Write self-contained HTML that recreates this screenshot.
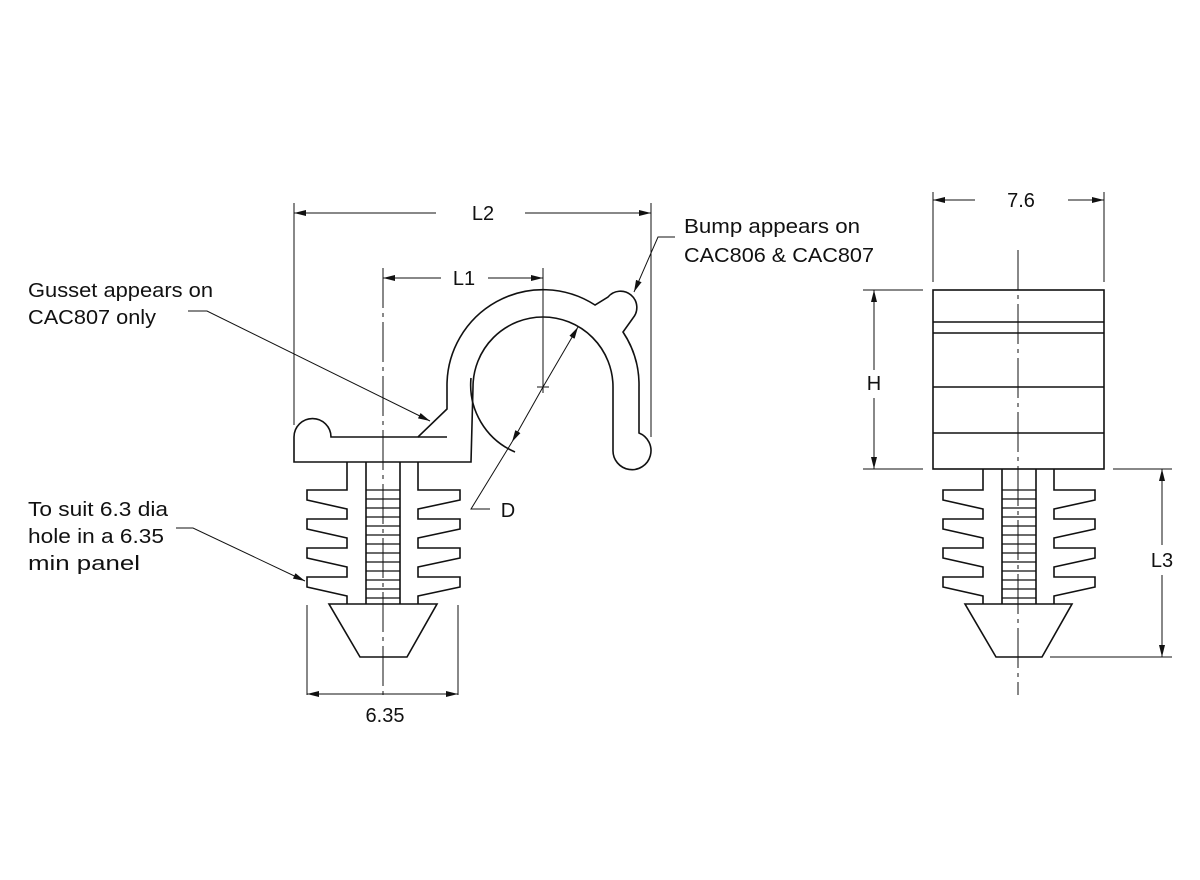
<!DOCTYPE html>
<html><head><meta charset="utf-8"><style>html,body{margin:0;padding:0;background:#fff}svg{display:block}</style></head>
<body>
<svg width="1200" height="880" viewBox="0 0 1200 880" xmlns="http://www.w3.org/2000/svg">
<defs>
<marker id="a" viewBox="0 0 12 6" refX="12" refY="3" markerWidth="12" markerHeight="6" orient="auto-start-reverse" markerUnits="userSpaceOnUse"><path d="M0,0 L12,3 L0,6 Z" fill="#111"/></marker>
</defs>
<g fill="none" stroke="#111" stroke-width="1.6">
<path d="M294,462 L294,437 A18,18 0 0 1 331,437 L418,437 L447,409 L447,387 A96,96 0 0 1 595,305 L608,297 A16,16 0 1 1 633,318 L623,332 A96,96 0 0 1 639,387 L639,433 A19,19 0 1 1 613,450 L613,387 A70,70 0 0 0 473,387 L471,462 Z"/>
<path d="M418,437 L447,437"/>
<path d="M471,378 A73,73 0 0 0 515,452"/>
<path d="M347,462 L347,490 L307,490 L307,500 L347,509 L347,519 L307,519 L307,529 L347,538 L347,548 L307,548 L307,558 L347,567 L347,577 L307,577 L307,587 L347,596 L347,604"/>
<path d="M418,462 L418,490 L460,490 L460,500 L418,509 L418,519 L460,519 L460,529 L418,538 L418,548 L460,548 L460,558 L418,567 L418,577 L460,577 L460,587 L418,596 L418,604"/>
<path d="M366,462 L366,604 M400,462 L400,604"/>
<path d="M366,490H400M366,499H400M366,508H400M366,517H400M366,526H400M366,535H400M366,544H400M366,553H400M366,562H400M366,571H400M366,580H400M366,589H400M366,598H400" stroke-width="1.2"/>
<path d="M329,604 L437,604 L407,657 L360,657 Z"/>
<rect x="933" y="290" width="171" height="179"/>
<path d="M933,322H1104M933,333H1104M933,387H1104M933,433H1104"/>
<path d="M983,469 L983,490 L943,490 L943,500 L983,509 L983,519 L943,519 L943,529 L983,538 L983,548 L943,548 L943,558 L983,567 L983,577 L943,577 L943,587 L983,596 L983,604"/>
<path d="M1054,469 L1054,490 L1095,490 L1095,500 L1054,509 L1054,519 L1095,519 L1095,529 L1054,538 L1054,548 L1095,548 L1095,558 L1054,567 L1054,577 L1095,577 L1095,587 L1054,596 L1054,604"/>
<path d="M1002,469 L1002,604 M1036,469 L1036,604"/>
<path d="M1002,490H1036M1002,499H1036M1002,508H1036M1002,517H1036M1002,526H1036M1002,535H1036M1002,544H1036M1002,553H1036M1002,562H1036M1002,571H1036M1002,580H1036M1002,589H1036M1002,598H1036" stroke-width="1.2"/>
<path d="M965,604 L1072,604 L1042,657 L996,657 Z"/>
</g>
<g fill="none" stroke="#111" stroke-width="1">
<path d="M383,268 L383,700" stroke-dasharray="40,5,4,5"/>
<path d="M1018,250 L1018,695" stroke-dasharray="40,5,4,5"/>
<path d="M543,268 L543,387"/>
<path d="M537,387H549M543,381V393"/>
<path d="M294,203 L294,425 M651,203 L651,437"/>
<path d="M436,213 L294,213" marker-end="url(#a)"/>
<path d="M525,213 L651,213" marker-end="url(#a)"/>
<path d="M441,278 L383,278" marker-end="url(#a)"/>
<path d="M488,278 L543,278" marker-end="url(#a)"/>
<path d="M543,387 L578,327" marker-end="url(#a)"/>
<path d="M543,387 L512,442" marker-end="url(#a)"/>
<path d="M512,442 L471,509 L490,509"/>
<path d="M307,605 L307,695 M458,605 L458,695"/>
<path d="M383,694 L307,694" marker-end="url(#a)"/>
<path d="M383,694 L458,694" marker-end="url(#a)"/>
<path d="M933,192 L933,282 M1104,192 L1104,282"/>
<path d="M975,200 L933,200" marker-end="url(#a)"/>
<path d="M1068,200 L1104,200" marker-end="url(#a)"/>
<path d="M863,290 L923,290 M863,469 L923,469"/>
<path d="M874,370 L874,290" marker-end="url(#a)"/>
<path d="M874,398 L874,469" marker-end="url(#a)"/>
<path d="M1113,469 L1172,469 M1050,657 L1172,657"/>
<path d="M1162,545 L1162,469" marker-end="url(#a)"/>
<path d="M1162,575 L1162,657" marker-end="url(#a)"/>
<path d="M188,311 L207,311 L430,421" marker-end="url(#a)"/>
<path d="M176,528 L193,528 L305,581" marker-end="url(#a)"/>
<path d="M675,237 L658,237 L634,292" marker-end="url(#a)"/>
</g>
<g font-family="Liberation Sans, sans-serif" font-size="20" fill="#111">
<text x="483" y="220" text-anchor="middle">L2</text>
<text x="464" y="285" text-anchor="middle">L1</text>
<text x="508" y="517" text-anchor="middle">D</text>
<text x="385" y="722" text-anchor="middle">6.35</text>
<text x="1021" y="207" text-anchor="middle">7.6</text>
<text x="874" y="390" text-anchor="middle">H</text>
<text x="1162" y="567" text-anchor="middle">L3</text>
<text x="28" y="297" textLength="185" lengthAdjust="spacingAndGlyphs">Gusset appears on</text>
<text x="28" y="324" textLength="128" lengthAdjust="spacingAndGlyphs">CAC807 only</text>
<text x="28" y="516" textLength="140" lengthAdjust="spacingAndGlyphs">To suit 6.3 dia</text>
<text x="28" y="543" textLength="136" lengthAdjust="spacingAndGlyphs">hole in a 6.35</text>
<text x="28" y="570" textLength="112" lengthAdjust="spacingAndGlyphs">min panel</text>
<text x="684" y="233" textLength="176" lengthAdjust="spacingAndGlyphs">Bump appears on</text>
<text x="684" y="262" textLength="190" lengthAdjust="spacingAndGlyphs">CAC806 &amp; CAC807</text>
</g>
</svg>
</body></html>
